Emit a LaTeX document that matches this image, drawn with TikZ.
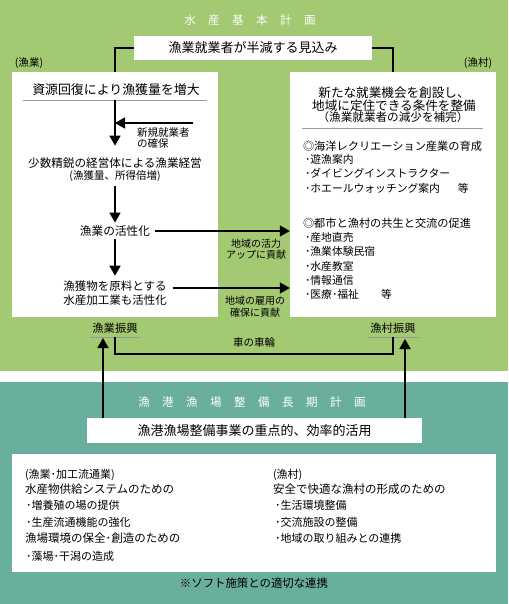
\documentclass[tikz,border=0pt]{standalone}
\usepackage{fontspec}
\setmainfont{Noto Sans CJK JP}
\usetikzlibrary{arrows.meta}
\definecolor{bggreen}{HTML}{A3C972}
\definecolor{bgteal}{HTML}{6AAE9E}
\definecolor{rulegray}{HTML}{9A9A9A}
\newcommand{\fs}[1]{\fontsize{#1}{#1}\selectfont}
\begin{document}
\begin{tikzpicture}[x=1pt,y=-1pt,
  t/.style={inner sep=0pt, outer sep=0pt, text=black},
  tl/.style={t, anchor=west},
  conn/.style={line width=1.6pt, black},
  arr/.style={conn, -{Triangle[width=11pt,length=10pt]}},
  wbox/.style={fill=white, draw=none, inner sep=0pt},
  rulel/.style={draw=rulegray, line width=0.8pt},
  ttl/.style={inner sep=0pt, text=white, font=\fs{11.5}}]
\useasboundingbox (0,0) rectangle (508,604);
\fill[bggreen] (0,0) rectangle (508,371);
\fill[bgteal] (0,382) rectangle (508,604);

% top section
\node[ttl] (t1) at (250,20) {水\hspace{12.5pt}産\hspace{12.5pt}基\hspace{12.5pt}本\hspace{12.5pt}計\hspace{12.5pt}画};
\node[wbox, minimum width=238pt, minimum height=24pt, font=\fs{13}] (topbox) at (253,48) {漁業就業者が半減する見込み};
\node[wbox, minimum width=206pt, minimum height=245pt] (lbox) at (115,194.5) {};
\node[wbox, minimum width=206pt, minimum height=245pt] (rbox) at (393,194.5) {};
\draw[conn] (topbox.west) -| (lbox.north);
\draw[conn] (topbox.east) -| (rbox.north);
\node[t, font=\fs{10.5}] (lgyo) at (29,63) {(漁業)};
\node[t, font=\fs{10.5}] (lson) at (478,63) {(漁村)};

% left box
\node[t, font=\fs{12.9}] (l1) at (116,90) {資源回復により漁獲量を増大};
\draw[rulel] (23,100) -- (207,100);
\coordinate (r1) at (115,100);
\node[t, font=\fs{11.6}] (l2) at (115,163) {少数精鋭の経営体による漁業経営};
\node[t, font=\fs{10.5}] (l2b) at (115,176) {(漁獲量、所得倍増)};
\node[t, font=\fs{11.7}] (l3) at (115,231) {漁業の活性化};
\node[t, font=\fs{11.5}] (l4a) at (115,286) {漁獲物を原料とする};
\node[t, font=\fs{11.5}] (l4b) at (115,300) {水産加工業も活性化};
\node[tl, font=\fontsize{10.5}{11.5}\selectfont, align=left] (newj) at (137,138) {新規就業者\\の確保};
\coordinate (nj) at (193,123);

\draw[arr, shorten >=12pt] (r1) -- (l2.north);
\draw[arr] (nj) -- (nj -| r1);
\draw[arr, shorten <=5pt, shorten >=3pt] (l2b.south) -- (l3.north);
\draw[arr, shorten <=3pt, shorten >=5pt] (l3.south) -- (l4a.north);

\draw[arr] ([xshift=5pt]l3.east) -- (l3.east -| rbox.west);
\coordinate (s2) at ([xshift=6pt,yshift=-2pt]l4a.east);
\draw[arr] (s2) -- (s2 -| rbox.west);
\node[t, font=\fontsize{10}{11.5}\selectfont, align=center] (lab1) at (256,249) {地域の活力\\アップに貢献};
\node[t, font=\fontsize{10}{12}\selectfont, align=center] (lab2) at (255,307) {地域の雇用の\\確保に貢献};

% right box
\node[t, align=center, font=\fontsize{12.6}{12.5}\selectfont] (rt) at (394,99) {新たな就業機会を創設し、\\地域に定住できる条件を整備};
\node[t, font=\fs{11.6}] (rs) at (393,117) {（漁業就業者の減少を補完）};
\draw[rulel] (302,128) -- (483,128);
\node[tl, font=\fs{11.2}] (rA) at (303,146) {◎海洋レクリエーション産業の育成};
\node[tl, font=\fs{10.8}] (rA1) at (305,159) {･遊漁案内};
\node[tl, font=\fs{10.8}] (rA2) at (305,173) {･ダイビングインストラクター};
\node[tl, font=\fs{10.8}] (rA3) at (305,188) {･ホエールウォッチング案内\hspace{18pt}等};
\node[tl, font=\fs{11.2}] (rB) at (303,223) {◎都市と漁村の共生と交流の促進};
\node[tl, font=\fs{10.8}] (rB1) at (305,237) {･産地直売};
\node[tl, font=\fs{10.8}] (rB2) at (305,251) {･漁業体験民宿};
\node[tl, font=\fs{10.8}] (rB3) at (305,266) {･水産教室};
\node[tl, font=\fs{10.8}] (rB4) at (305,280) {･情報通信};
\node[tl, font=\fs{10.8}] (rB5) at (305,294) {･医療･福祉\hspace{22pt}等};

% wheels
\node[t, font=\fs{11.3}] (gyo) at (115,328) {漁業振興};
\node[t, font=\fs{11.3}] (son) at (393,328) {漁村振興};
\draw[rulel] (90,337) -- (140,337);
\draw[rulel] (368,337) -- (419,337);
\coordinate (gyoU) at (115,337);
\coordinate (sonU) at (393,337);
\coordinate (whl) at (254,354);
\draw[conn] (gyoU) -- (gyoU |- whl) -- (sonU |- whl) -- (sonU);
\node[t, font=\fs{10.5}] (wheel) at (254,343) {車の車輪};

% bottom section
\node[ttl] (t2) at (252,402) {漁\hspace{12.5pt}港\hspace{12.5pt}漁\hspace{12.5pt}場\hspace{12.5pt}整\hspace{12.5pt}備\hspace{12.5pt}長\hspace{12.5pt}期\hspace{12.5pt}計\hspace{12.5pt}画};
\node[wbox, minimum width=335pt, minimum height=25pt, font=\fs{13}] (bbox) at (254.5,430.5) {漁港漁場整備事業の重点的、効率的活用};
\coordinate (ga) at (103,338);
\coordinate (sa) at (405,339);
\draw[arr] (ga |- bbox.north) -- (ga);
\draw[arr] (sa |- bbox.north) -- (sa);

\node[wbox, minimum width=484pt, minimum height=118pt] (lowbox) at (254,513) {};
\node[tl, font=\fs{11}] (bl1) at (25,475) {(漁業･加工流通業)};
\node[tl, font=\fs{11.5}] (bl2) at (25,489) {水産物供給システムのための};
\node[tl, font=\fs{11}] (bl3) at (26,505) {･増養殖の場の提供};
\node[tl, font=\fs{11}] (bl4) at (26,522) {･生産流通機能の強化};
\node[tl, font=\fs{11.5}] (bl5) at (25,538) {漁場環境の保全･創造のための};
\node[tl, font=\fs{11}] (bl6) at (26,556) {･藻場･干潟の造成};
\node[tl, font=\fs{11}] (br1) at (273,475) {(漁村)};
\node[tl, font=\fs{11.5}] (br2) at (273,489) {安全で快適な漁村の形成のための};
\node[tl, font=\fs{11}] (br3) at (275,505) {･生活環境整備};
\node[tl, font=\fs{11}] (br4) at (275,522) {･交流施設の整備};
\node[tl, font=\fs{11}] (br5) at (275,538) {･地域の取り組みとの連携};
\node[t, font=\fs{11.4}] (foot) at (254,583) {※ソフト施策との適切な連携};
\end{tikzpicture}
\end{document}
